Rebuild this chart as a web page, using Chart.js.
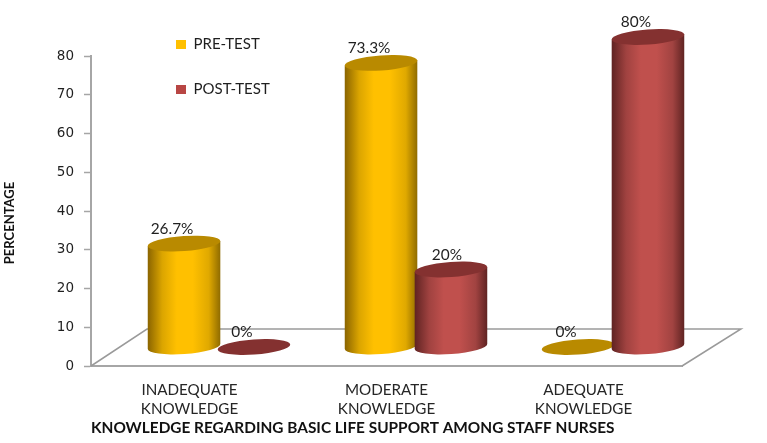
<!DOCTYPE html>
<html>
<head>
<meta charset="utf-8">
<style>
  html, body { margin: 0; padding: 0; background: #fff; }
  #wrap { width: 767px; height: 443px; position: relative; }
</style>
<script src="https://cdn.jsdelivr.net/npm/chart.js@4/dist/chart.umd.js"></script>
</head>
<body>
<div id="wrap"><canvas id="c" width="767" height="443"></canvas></div>
<script>
const categories = [["INADEQUATE", "KNOWLEDGE"], ["MODERATE", "KNOWLEDGE"], ["ADEQUATE", "KNOWLEDGE"]];
const preTest = [26.7, 73.3, 0];
const postTest = [0, 20, 80];
const preLabels = ["26.7%", "73.3%", "0%"];
const postLabels = ["0%", "20%", "80%"];
const yTicks = [0, 10, 20, 30, 40, 50, 60, 70, 80];
const xTitle = "KNOWLEDGE REGARDING BASIC LIFE SUPPORT AMONG STAFF NURSES";
const yTitle = "PERCENTAGE";

// Floor parallelogram depth; columns stand halfway into it.
const DEPTH_X = 56, DEPTH_Y = 37;
const BAR_DX = 29.5, BAR_DY = 19;
const TILT = -0.07, RY = 7.5;

const palette = {
  pre:  { stops: ["#8a6400", "#dba500", "#ffc000", "#ffc000", "#e0a900", "#8f6b00"], cap: "#b98a00" },
  post: { stops: ["#5f2322", "#a04240", "#c0504d", "#c0504d", "#a14341", "#5f2322"], cap: "#843130" }
};

function drawCylinder(ctx, el, colors) {
  const cx = el.x + BAR_DX, top = el.y - BAR_DY, base = el.base - BAR_DY;
  const a = el.width / 2;
  const dx = a * Math.cos(TILT), dy = a * Math.sin(TILT);
  if (base - top > 0.5) {
    const g = ctx.createLinearGradient(cx - a, 0, cx + a, 0);
    [0, 0.2, 0.4, 0.62, 0.84, 1].forEach((p, i) => g.addColorStop(p, colors.stops[i]));
    ctx.beginPath();
    ctx.moveTo(cx - dx, top - dy);
    ctx.lineTo(cx - dx, base - dy);
    ctx.ellipse(cx, base, a, RY, TILT, Math.PI, 0, true);
    ctx.lineTo(cx + dx, top + dy);
    ctx.closePath();
    ctx.fillStyle = g;
    ctx.fill();
  }
  ctx.beginPath();
  ctx.ellipse(cx, top, a, RY, TILT, 0, Math.PI * 2);
  ctx.fillStyle = colors.cap;
  ctx.fill();
}

const cylinderPlugin = {
  id: "cylinders",
  beforeDatasetsDraw(chart) {
    const { ctx, chartArea: area } = chart;
    const zero = chart.scales.y.getPixelForValue(0);

    // Floor outline behind the columns
    ctx.save();
    ctx.strokeStyle = "#9a9a9a";
    ctx.lineWidth = 1.5;
    ctx.beginPath();
    ctx.moveTo(area.left, zero);
    ctx.lineTo(area.left + DEPTH_X, zero - DEPTH_Y);
    ctx.lineTo(area.right + DEPTH_X + 3, zero - DEPTH_Y);
    ctx.lineTo(area.right, zero);
    ctx.stroke();

    // Post-test columns sit in front of the pre-test ones
    const sets = [[0, palette.pre, preLabels], [1, palette.post, postLabels]];
    sets.forEach(([i, colors]) => {
      chart.getDatasetMeta(i).data.forEach(el => drawCylinder(ctx, el, colors));
    });

    // Value labels above each column
    ctx.font = "15.4px Lato";
    ctx.fillStyle = "#1f1f1f";
    ctx.textAlign = "center";
    ctx.textBaseline = "middle";
    sets.forEach(([i, , texts]) => {
      chart.getDatasetMeta(i).data.forEach((el, j) => {
        const shift = texts[j] === "20%" ? -4 : -12;
        ctx.fillText(texts[j], el.x + BAR_DX + shift, el.y - BAR_DY - 14.5);
      });
    });
    ctx.restore();
    return false;
  },
  // Vertical axis caption, centred a little below the middle of the axis
  afterDraw(chart) {
    const { ctx } = chart;
    ctx.save();
    ctx.translate(10, 223);
    ctx.rotate(-Math.PI / 2);
    ctx.font = "bold 13px Lato";
    ctx.fillStyle = "#111";
    ctx.textAlign = "center";
    ctx.textBaseline = "middle";
    ctx.fillText(yTitle, 0, 0);
    ctx.restore();
  }
};

// Moves the vertical legend into the open space above the columns.
const legendPlacement = {
  id: "legendPlacement",
  beforeDraw(chart) {
    const lg = chart.legend;
    lg.left = 146;
    lg.top = 7;
  }
};

new Chart(document.getElementById("c"), {
  type: "bar",
  data: {
    labels: categories,
    datasets: [
      { label: "PRE-TEST", data: preTest, backgroundColor: "#ffc000", barPercentage: 1.04, categoryPercentage: 0.71 },
      { label: "POST-TEST", data: postTest, backgroundColor: "#b84644", barPercentage: 1.04, categoryPercentage: 0.71 }
    ]
  },
  options: {
    responsive: false,
    animation: false,
    layout: { padding: { left: 0, right: 85, top: 56, bottom: 0 } },
    plugins: {
      title: { display: false },
      tooltip: { enabled: false },
      legend: {
        position: "chartArea",
        align: "start",
        labels: {
          boxWidth: 10,
          boxHeight: 9,
          padding: 30,
          color: "#1f1f1f",
          font: { family: "Lato", size: 15 }
        }
      }
    },
    scales: {
      x: {
        grid: { drawOnChartArea: false, drawTicks: false },
        border: { display: true, color: "#a6a6a6", width: 2 },
        afterFit(s) { s.height = 77; },
        ticks: {
          color: "#262626",
          padding: 15,
          maxRotation: 0,
          autoSkip: false,
          font: { family: "Lato", size: 15.2, lineHeight: 1.25 }
        },
        title: {
          display: true,
          text: xTitle,
          align: "start",
          color: "#111",
          padding: { top: 0, bottom: 6 },
          font: { family: "Lato", size: 15.4, weight: "bold" }
        }
      },
      y: {
        min: 0,
        max: 80,
        afterFit(s) { s.width = 91; },
        afterBuildTicks(s) { s.ticks = yTicks.map(v => ({ value: v })); },
        grid: { drawOnChartArea: false, drawTicks: true, tickLength: 7, color: "#a6a6a6", tickWidth: 1.5 },
        border: { display: true, color: "#a6a6a6", width: 2 },
        ticks: {
          color: "#1f1f1f",
          padding: 10,
          font: { family: "DejaVu Sans", size: 13.5 }
        }
      }
    }
  },
  plugins: [cylinderPlugin, legendPlacement]
});
</script>
</body>
</html>
